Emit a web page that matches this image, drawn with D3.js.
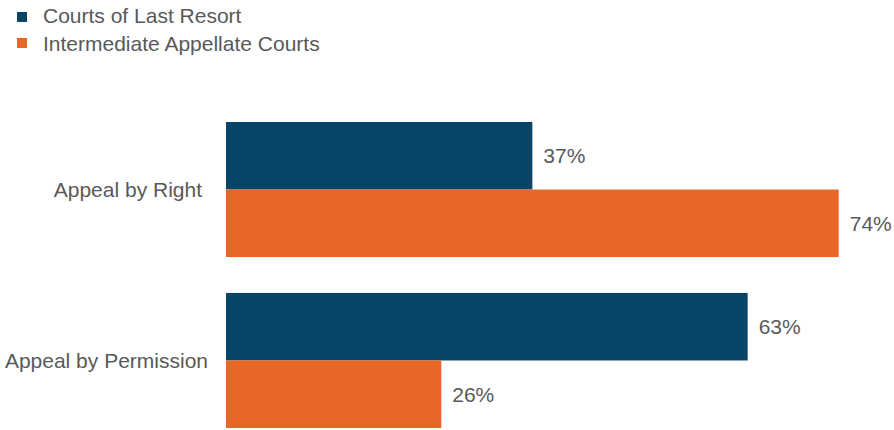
<!DOCTYPE html>
<html>
<head>
<meta charset="utf-8">
<script src="https://cdn.jsdelivr.net/npm/d3@7"></script>
<style>
    body { margin: 0; background: #fff; }
    text { font-family: "Liberation Sans", Arial, sans-serif; fill: #595959; }
</style>
</head>
<body>
<svg id="chart" width="894" height="430"></svg>
<script>
var categories = ["Appeal by Right", "Appeal by Permission"]
var seriesNames = ["Courts of Last Resort", "Intermediate Appellate Courts"]
var lastResort = [37, 63]
var intermediate = [74, 26]
var colors = ["#084466", "#E96726"]

var svg = d3.select("#chart")

var data = categories.map(function (c, i) {
    return { cat: c, values: [lastResort[i], intermediate[i]] }
})

// scales
var x = d3.scaleLinear()
    .domain([0, 100])
    .range([226, 1054])

var y = d3.scaleBand()
    .domain(categories)
    .range([122, 428])
    .paddingInner(0.21)
    .paddingOuter(0)

var ySub = d3.scaleBand()
    .domain([0, 1])
    .range([0, y.bandwidth()])

var groups = svg.selectAll(".grp")
    .data(data)
    .enter().append("g")
    .attr("class", "grp")
    .attr("transform", function (d) { return "translate(0," + y(d.cat) + ")" })

groups.selectAll("rect")
    .data(function (d) { return d.values })
    .enter().append("rect")
    .attr("x", x(0))
    .attr("y", function (d, i) { return ySub(i) })
    .attr("width", function (d) { return x(d) - x(0) })
    .attr("height", ySub.bandwidth())
    .attr("fill", function (d, i) { return colors[i] })

groups.selectAll(".val")
    .data(function (d) { return d.values })
    .enter().append("text")
    .attr("class", "val")
    .attr("x", function (d) { return x(d) + 11 })
    .attr("y", function (d, i) { return ySub(i) + ySub.bandwidth() / 2 })
    .attr("dy", "0.35em")
    .style("font-size", "21px")
    .text(function (d) { return d + "%" })

// category labels
svg.selectAll(".cat")
    .data(categories)
    .enter().append("text")
    .attr("class", "cat")
    .attr("x", function (d, i) { return i == 0 ? 202 : 208 })
    .attr("y", function (d) { return y(d) + y.bandwidth() / 2 })
    .attr("dy", "0.35em")
    .attr("text-anchor", "end")
    .style("font-size", "21px")
    .text(function (d) { return d })

// legend
var legend = svg.selectAll(".legend")
    .data(seriesNames)
    .enter().append("g")
    .attr("class", "legend")

legend.append("rect")
    .attr("x", 17)
    .attr("y", function (d, i) { return 12 + i * 26 })
    .attr("width", 10)
    .attr("height", 10)
    .attr("fill", function (d, i) { return colors[i] })

legend.append("text")
    .attr("x", 43)
    .attr("y", function (d, i) { return 23 + i * 28 })
    .style("font-size", "21px")
    .text(function (d) { return d })
</script>
</body>
</html>
